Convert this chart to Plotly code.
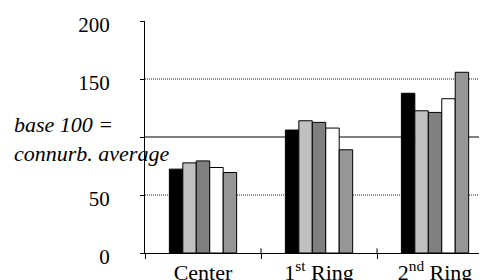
import plotly.graph_objects as go

categories = ["Center", "1st Ring", "2nd Ring"]
category_labels = ["Center", "1<sup>st</sup> Ring", "2<sup>nd</sup> Ring"]
series_a = [72.3, 106.0, 137.7]
series_b = [77.7, 114.0, 122.6]
series_c = [79.4, 112.6, 121.2]
series_d = [73.7, 107.7, 133.0]
series_e = [69.4, 89.0, 155.8]
y_ticks = [0, 50, 100, 150, 200]
y_tick_text = ["0", "50", "", "150", "200"]
dotted_lines = [50, 150]
solid_lines = [100]

colors = ["#000000", "#c0c0c0", "#808080", "#ffffff", "#969696"]
FONT = "Liberation Serif"

fig = go.Figure()
for vals, col in zip([series_a, series_b, series_c, series_d, series_e], colors):
    fig.add_trace(go.Bar(x=categories, y=vals, marker=dict(color=col, line=dict(color="black", width=1)),
                         showlegend=False))

for v in dotted_lines:
    fig.add_shape(type="line", xref="paper", yref="y", x0=0, x1=1, y0=v, y1=v,
                  line=dict(color="#222222", width=1, dash="1px,1px"), layer="below")
for v in solid_lines:
    fig.add_shape(type="line", xref="paper", yref="y", x0=0, x1=1, y0=v, y1=v,
                  line=dict(color="black", width=1), layer="below")

# upper halves of crossing category ticks
for b in [0.5, 1.5]:
    fig.add_shape(type="line", xref="x", yref="y", x0=b, x1=b, y0=0, y1=4,
                  line=dict(color="black", width=1))

fig.add_annotation(text="<i>base 100 =<br>connurb. average</i>", xref="paper", yref="y",
                   x=-0.389, y=98.5, xanchor="left", yanchor="middle", align="left",
                   showarrow=False, font=dict(family=FONT, size=22, color="black"))

# page body adds an 8px offset; margins compensate so the plot lands where the reference has it
fig.update_layout(
    width=487, height=280,
    margin=dict(l=137, r=8, t=13, b=35),
    paper_bgcolor="white", plot_bgcolor="white",
    barmode="group", bargap=0.42, bargroupgap=0,
    font=dict(family=FONT, size=21, color="black"),
    xaxis=dict(range=[-0.5, 2.448], tickmode="array", tickvals=categories, ticktext=category_labels,
               tickson="boundaries", ticks="outside", ticklen=5, tickcolor="black",
               showline=True, linecolor="black", linewidth=1, showgrid=False, zeroline=False,
               automargin=False, tickfont=dict(family=FONT, size=22, color="black")),
    yaxis=dict(range=[0, 200], tickvals=y_ticks, ticktext=y_tick_text, ticks="outside", ticklen=4,
               tickcolor="black", showline=True, linecolor="black", linewidth=1, showgrid=False,
               zeroline=False, ticklabelstandoff=26, ticklabelshift=4, automargin=False,
               tickfont=dict(family=FONT, size=21, color="black")),
)

fig.write_html("out.html")
